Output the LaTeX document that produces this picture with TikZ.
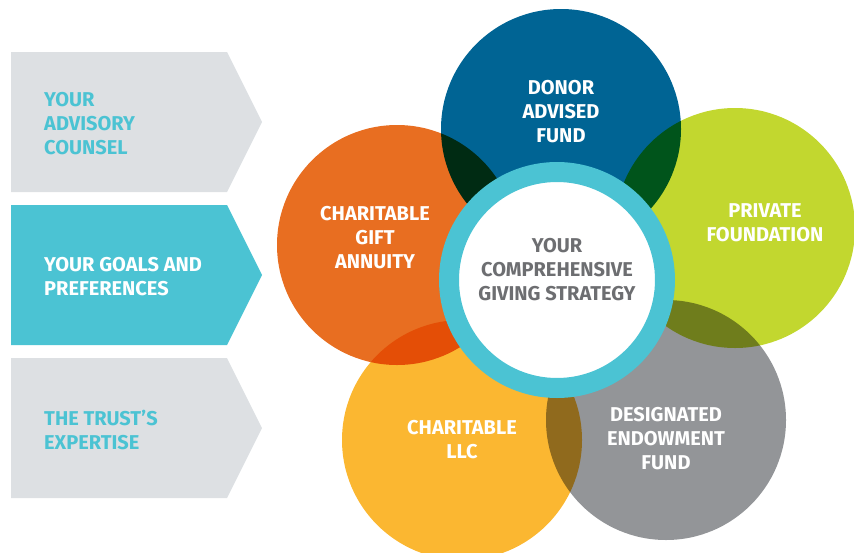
\documentclass[tikz,border=0pt]{standalone}
\usepackage{fontspec}
\setmainfont{Fira Sans}
\usetikzlibrary{positioning,calc}
\definecolor{chevgray}{RGB}{221,224,227}
\definecolor{trustteal}{RGB}{75,195,211}
\definecolor{dafblue}{RGB}{0,100,148}
\definecolor{pfgreen}{RGB}{194,215,47}
\definecolor{defgray}{RGB}{147,149,152}
\definecolor{llcyellow}{RGB}{251,183,49}
\definecolor{cgaorange}{RGB}{232,110,33}
\definecolor{centertext}{RGB}{109,110,113}

\begin{document}
\begin{tikzpicture}[x=1pt, y=-1pt,
    bubble/.style={circle, minimum size=240pt, inner sep=0pt},
    bubbletext/.style={align=center, text=white, font=\fontsize{20}{24}\selectfont\bfseries},
    chevtext/.style={align=left, anchor=west, inner sep=0pt, text=trustteal, font=\fontsize{20}{24}\selectfont\bfseries},
    hub/.style={circle, draw=trustteal, line width=20pt, fill=white, minimum size=216pt, inner sep=0pt}
]
\useasboundingbox (0,0) rectangle (854,552);

% Left side chevrons
\fill[chevgray] (11,52) -- (227,52) -- (262,122) -- (227,192) -- (11,192) -- cycle;
\fill[trustteal] (11,205) -- (227,205) -- (262,275) -- (227,345) -- (11,345) -- cycle;
\fill[chevgray] (11,358) -- (227,358) -- (262,428) -- (227,498) -- (11,498) -- cycle;

\node[chevtext] (counsel) at (44,124) {YOUR\\ADVISORY\\COUNSEL};
\node[chevtext, text=white] (goals) at (44,277) {YOUR GOALS AND\\PREFERENCES};
\node[chevtext] (expertise) at (44,430) {THE TRUST’S\\EXPERTISE};

% Giving vehicles, overlapping circles
\begin{scope}[blend group=multiply]
    \node[bubble, fill=dafblue] (daf) at (561,129) {};
    \node[bubble, fill=pfgreen] (pf) at (735,228) {};
    \node[bubble, fill=defgray] (def) at (666,420) {};
    \node[bubble, fill=llcyellow] (llc) at (462,440) {};
    \node[bubble, fill=cgaorange] (cga) at (397,245) {};
\end{scope}

% Centre of the strategy
\node[hub] (hub) at (557,280) {};
\node[align=center, text=centertext, font=\fontsize{20}{24}\selectfont\bfseries] (hub-label) at ($(hub)+(0,-10)$) {YOUR\\COMPREHENSIVE\\GIVING STRATEGY};

% Labels of the circles
\node[bubbletext] (daf-label) at ($(daf)+(0,-17)$) {DONOR\\ADVISED\\FUND};
\node[bubbletext] (pf-label) at ($(pf)+(30,-5)$) {PRIVATE\\FOUNDATION};
\node[bubbletext] (def-label) at ($(def)+(0,19)$) {DESIGNATED\\ENDOWMENT\\FUND};
\node[bubbletext] (llc-label) at ($(llc)+(0,0)$) {CHARITABLE\\LLC};
\node[bubbletext] (cga-label) at ($(cga)+(-22,-7)$) {CHARITABLE\\GIFT\\ANNUITY};

\end{tikzpicture}
\end{document}
